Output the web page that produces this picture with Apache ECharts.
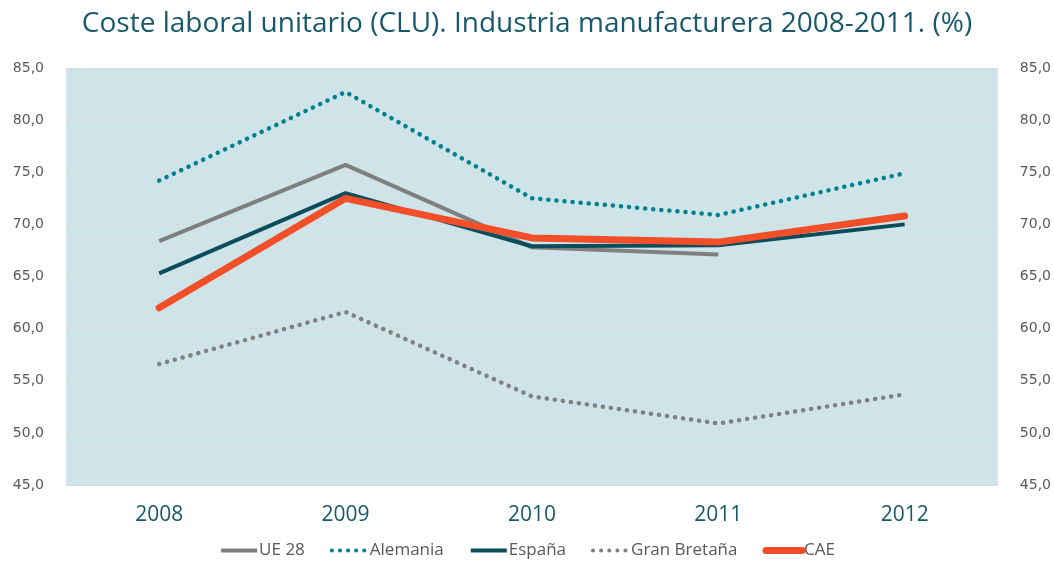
<!DOCTYPE html>
<html>
<head>
<meta charset="utf-8">
<script src="https://cdn.jsdelivr.net/npm/echarts@6/dist/echarts.min.js"></script>
<style>
html,body{margin:0;padding:0;background:#fff;}
#c{width:1054px;height:567px;}
</style>
</head>
<body>
<div id="c"></div>
<script>
var categories = ['2008', '2009', '2010', '2011', '2012'];
var ue28 = [68.4, 75.7, 67.8, 67.1, null];
var alemania = [74.2, 82.7, 72.5, 70.9, 74.9];
var espana = [65.3, 73.0, 67.9, 68.0, 70.0];
var granBretana = [56.6, 61.6, 53.5, 50.9, 53.7];
var cae = [62.0, 72.5, 68.7, 68.3, 70.8];
var seriesNames = ['UE 28', 'Alemania', 'España', 'Gran Bretaña', 'CAE'];
var yMin = 45, yMax = 85, yStep = 5;

var chart = echarts.init(document.getElementById('c'), null, {renderer: 'canvas'});
function fmt(v){ return v.toFixed(1).replace('.', ','); }
var yAxisBase = {
  type: 'value', min: yMin, max: yMax, interval: yStep,
  axisLine: {show: false}, axisTick: {show: false},
  axisLabel: {formatter: fmt, color: '#595959', fontFamily: 'DejaVu Sans', fontSize: 14, margin: 22},
  splitLine: {show: true, lineStyle: {color: '#D9D9D9', width: 1}}
};
var dot = [0.1, 8];
var legendWidths = [4, 4, 4, 4, 7];
chart.setOption({
  animation: false,
  backgroundColor: '#ffffff',
  title: {
    text: 'Coste laboral unitario (CLU). Industria manufacturera 2008-2011. (%)',
    left: 'center', top: 5,
    textStyle: {color: '#17596B', fontFamily: 'Open Sans', fontWeight: 'normal', fontSize: 28}
  },
  grid: {left: 66, right: 55, top: 68, bottom: 82, show: true, backgroundColor: '#CFE4E8', borderWidth: 0},
  legend: {
    bottom: 3, left: 'center', itemWidth: 36, itemHeight: 14, itemGap: 25,
    itemStyle: {opacity: 0},
    textStyle: {color: '#595959', fontFamily: 'Open Sans', fontSize: 17, padding: [0, 0, 0, -3]},
    data: seriesNames.map(function (n, i) {
      return {name: n, lineStyle: {width: legendWidths[i]}};
    })
  },
  xAxis: {
    type: 'category', data: categories, boundaryGap: true,
    axisLine: {show: false}, axisTick: {show: false},
    axisLabel: {color: '#17596B', fontFamily: 'Open Sans', fontSize: 21, margin: 20}
  },
  yAxis: [
    Object.assign({position: 'left'}, yAxisBase),
    Object.assign({position: 'right'}, yAxisBase, {splitLine: {show: false}})
  ],
  series: [
    {name: seriesNames[0], type: 'line', data: ue28, symbol: 'none', color: '#7F7F7F',
     lineStyle: {color: '#7F7F7F', width: 4}},
    {name: seriesNames[1], type: 'line', data: alemania, symbol: 'none', color: '#00808F',
     lineStyle: {color: '#00808F', width: 4.5, type: dot, cap: 'round'}},
    {name: seriesNames[2], type: 'line', data: espana, symbol: 'none', color: '#0B4D5B',
     lineStyle: {color: '#0B4D5B', width: 4}},
    {name: seriesNames[3], type: 'line', data: granBretana, symbol: 'none', color: '#808080',
     lineStyle: {color: '#808080', width: 4.5, type: dot, cap: 'round'}},
    {name: seriesNames[4], type: 'line', data: cae, symbol: 'none', color: '#F24E27',
     lineStyle: {color: '#F24E27', width: 7, cap: 'round'}}
  ]
});
</script>
</body>
</html>
